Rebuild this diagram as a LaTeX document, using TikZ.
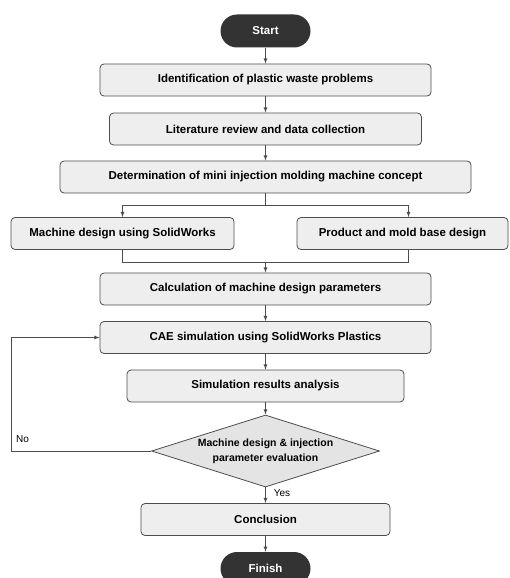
\documentclass[tikz,border=0pt]{standalone}
\usepackage{fontspec}
\setmainfont{Liberation Sans}
\usetikzlibrary{shapes.geometric,positioning,arrows}
\definecolor{boxfill}{HTML}{EEEEEE}
\definecolor{decfill}{HTML}{E4E4E4}
\definecolor{termfill}{HTML}{333333}
\definecolor{linegray}{HTML}{4D4D4D}

\begin{document}
\begin{tikzpicture}[x=1pt,y=-1pt,
proc/.style={draw=linegray, fill=boxfill, rounded corners=4pt, line width=0.8pt, inner sep=0pt, minimum height=32pt, font=\bfseries\fontsize{11.5}{13}\selectfont},
term/.style={fill=termfill, text=white, rounded corners=16.5pt, minimum width=90pt, minimum height=33pt, inner sep=0pt, font=\bfseries\fontsize{11.5}{13}\selectfont},
dec/.style={diamond, draw=linegray, fill=decfill, line width=0.8pt, aspect=3.17, inner sep=0pt, minimum width=228pt, minimum height=72pt, align=center, font=\bfseries\fontsize{10.5}{15}\selectfont},
arr/.style={draw=linegray, line width=0.8pt, -latex},
lbl/.style={font=\fontsize{10}{12}\selectfont, text=black, inner sep=1pt}
]
\useasboundingbox (0,0) rectangle (509,578);

\node[term] (start) at (265.5,31) {Start};
\node[proc, minimum width=331pt] (ident) at (265.5,80) {Identification of plastic waste problems};
\node[proc, minimum width=312pt] (lit) at (265.5,129) {Literature review and data collection};
\node[proc, minimum width=411pt] (concept) at (265.5,177) {Determination of mini injection molding machine concept};
\node[proc, minimum width=223pt] (mdesign) at (122.5,233.5) {Machine design using SolidWorks};
\node[proc, minimum width=211pt] (mold) at (402.5,233.5) {Product and mold base design};
\node[proc, minimum width=331pt] (calc) at (265.5,289) {Calculation of machine design parameters};
\node[proc, minimum width=331pt] (cae) at (265.5,337.5) {CAE simulation using SolidWorks Plastics};
\node[proc, minimum width=277pt] (results) at (265.5,386) {Simulation results analysis};
\node[dec] (eval) at (265.5,451) {Machine design \& injection\\parameter evaluation};
\node[proc, minimum width=249pt] (concl) at (265.5,519.5) {Conclusion};
\node[term] (finish) at (265.5,568.5) {Finish};

\coordinate (split) at (265.5,205);
\coordinate (merge) at (265.5,262);
\coordinate (noloop) at (11,451);

\draw[arr] (start) -- (ident);
\draw[arr] (ident) -- (lit);
\draw[arr] (lit) -- (concept);
\draw[linegray, line width=0.8pt] (concept) -- (split);
\draw[arr] (split) -| (mdesign);
\draw[arr] (split) -| ([xshift=6pt]mold.north);
\draw[linegray, line width=0.8pt] (mdesign) |- (merge);
\draw[linegray, line width=0.8pt] ([xshift=6pt]mold.south) |- (merge);
\draw[arr] (merge) -- (calc);
\draw[arr] (calc) -- (cae);
\draw[arr] (cae) -- (results);
\draw[arr] (results) -- (eval);
\draw[arr] (eval) -- node[lbl, right=7pt, pos=0.35] (yes) {Yes} (concl);
\draw[arr] (eval) -- (noloop) |- (cae);
\node[lbl, above right=7pt and 4pt of noloop] (no) {No};
\draw[arr] (concl) -- (finish);
\end{tikzpicture}
\end{document}
